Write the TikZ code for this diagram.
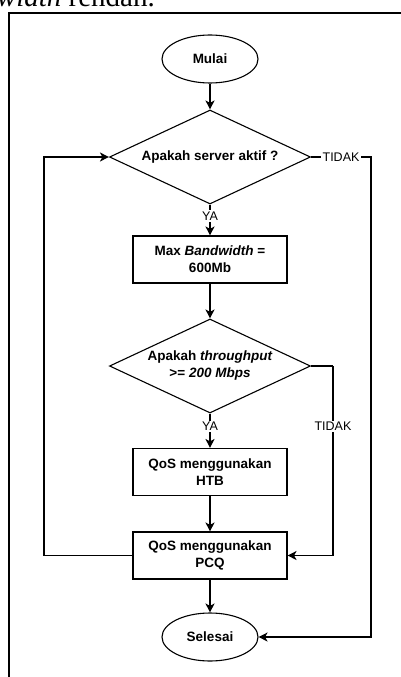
\documentclass[tikz,border=0pt]{standalone}
\usepackage{fontspec}
\setmainfont{Liberation Serif}
\newfontfamily\arial{Liberation Sans}
\usetikzlibrary{shapes.geometric,arrows.meta}

\tikzset{
  every picture/.style={x=1pt,y=-1pt},
  boxtext/.style={font=\arial\bfseries\fontsize{13.5}{17}\selectfont, align=center},
  terminal/.style={ellipse, draw, line width=1.1pt, minimum width=96pt, minimum height=48pt, inner sep=0pt, boxtext},
  process/.style={rectangle, draw, line width=1.1pt, minimum width=154pt, minimum height=47pt, inner sep=0pt, boxtext},
  decision/.style={diamond, draw, line width=1.1pt, minimum width=201pt, minimum height=94pt, inner sep=0pt},
  edgelabel/.style={font=\arial\fontsize{12.5}{15}\selectfont, fill=white, inner sep=1.5pt},
  flow/.style={line width=1.3pt, -{Stealth[length=9pt,width=9pt,inset=2.5pt]}},
  plain/.style={line width=1.3pt},
}

\begin{document}
\begin{tikzpicture}
\useasboundingbox (0,0) rectangle (401,677);
\clip (0,0) rectangle (401,677);

% running text of the page above the frame
\node[anchor=base east, inner sep=0pt, font=\fontsize{29}{34}\selectfont] (pagetext) at (155,7) {\textit{Bandwidth} rendah.};

% frame around the flowchart
\draw[line width=1.5pt] (9,700) -- (9,13) -- (420,13);

% blocks
\node[terminal] (start) at (210,59) {Mulai};
\node[decision] (d1) at (210,157) {};
\node[boxtext] (d1text) at (d1) {Apakah server aktif ?};
\node[process] (bw) at (210,259.5) {Max \textit{Bandwidth} =\\600Mb};
\node[decision] (d2) at (210,366) {};
\node[boxtext] (d2text) at (d2) {Apakah \textit{throughput}\\>= \textit{200 Mbps}};
\node[process] (htb) at (210,472) {QoS menggunakan\\HTB};
\node[process] (pcq) at (210,555.5) {QoS menggunakan\\PCQ};
\node[terminal] (stop) at (210,637) {Selesai};

% helper points for the side routes
\coordinate (r1) at (371,157);
\coordinate (r2) at (333,366);
\coordinate (l1) at (44,555.5);

% main flow
\draw[flow] (start) -- (d1);
\draw[flow] (d1) -- node[edgelabel, pos=0.38] (ya1) {YA} (bw);
\draw[flow] (bw) -- (d2);
\draw[flow] (d2) -- node[edgelabel, pos=0.38] (ya2) {YA} (htb);
\draw[flow] (htb) -- (pcq);
\draw[flow] (pcq) -- (stop);

% loop back to the server check
\draw[flow] (pcq.west) -- (l1) |- (d1.west);

% server not active
\draw[flow] (d1.east) -- node[edgelabel] (no1) {TIDAK} (r1) |- (stop.east);

% throughput below threshold
\draw[plain] (d2.east) -- (r2);
\draw[flow] (r2) -- node[edgelabel, pos=0.32] (no2) {TIDAK} (r2 |- pcq.east) -- (pcq.east);
\end{tikzpicture}
\end{document}
